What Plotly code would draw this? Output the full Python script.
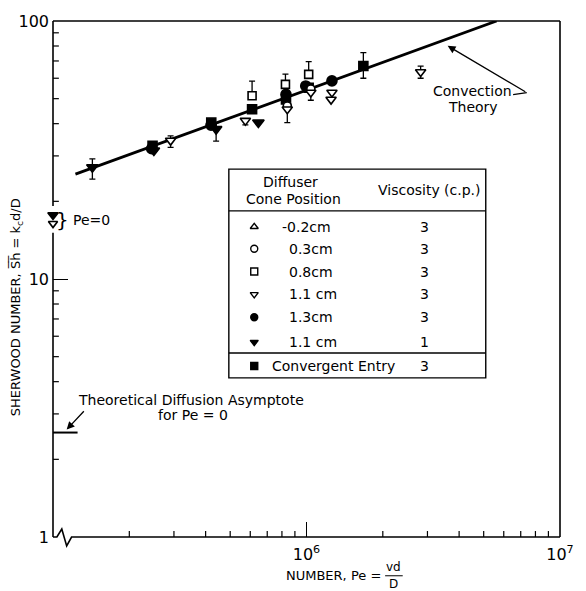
import math
import plotly.graph_objects as go

# ---------------- data ----------------
# Convection theory line (end points)
conv_pe = [1.226e5, 5.62e6]
conv_sh = [25.5, 100.0]

# Theoretical diffusion asymptote for Pe = 0
asym_pe = [1.0e5, 1.25e5]
asym_sh = [2.54, 2.54]

# Diffuser cone position 0.3 cm, 3 c.p. (open circle)
oc_pe = [8.4e5, 1.04e6]
oc_sh = [46.9, 54.5]
oc_ep = [0, 0]
oc_em = [0, 0]

# 0.8 cm, 3 c.p. (open square)
os_pe = [6.1e5, 8.26e5, 1.02e6]
os_sh = [51.3, 56.8, 62.1]
os_ep = [7.2, 5.4, 7.5]
os_em = [0, 0, 0]

# 1.1 cm, 3 c.p. (open down triangle)
ot_pe = [2.91e5, 5.74e5, 8.4e5, 1.04e6, 1.26e6, 1.25e6, 2.82e6]
ot_sh = [34.4, 41.1, 45.5, 52.8, 52.8, 49.6, 63.4]
ot_ep = [1.5, 0, 0, 0, 0, 0, 3.5]
ot_em = [2.0, 1.5, 5.1, 3.5, 0, 0, 3.4]

# 1.3 cm, 3 c.p. (filled circle)
fc_pe = [2.45e5, 4.2e5, 8.3e5, 9.93e5, 1.26e6]
fc_sh = [32.0, 39.5, 52.0, 56.0, 58.6]

# 1.1 cm, 1 c.p. (filled down triangle)
ft_pe = [1.43e5, 2.5e5, 4.4e5, 6.46e5]
ft_sh = [27.1, 31.5, 38.1, 40.4]
ft_ep = [2.1, 0, 2.3, 0]
ft_em = [2.7, 0, 3.9, 0]

# Convergent entry, 3 c.p. (filled square)
fs_pe = [2.47e5, 4.21e5, 6.1e5, 8.3e5, 1.02e6, 1.676e6]
fs_sh = [32.8, 40.4, 45.5, 49.6, 55.1, 66.9]
fs_ep = [0, 0, 0, 0, 0, 8.5]
fs_em = [0, 0, 0, 0, 0, 6.9]

# Pe = 0 points (drawn on the broken left axis)
pe0_filled_sh = [17.7]
pe0_open_sh = [16.4]

# legend table rows
leg_symbols = ["triangle-up", "circle", "square", "triangle-down",
               "circle", "triangle-down", "square"]
leg_filled = [False, False, False, False, True, True, True]
leg_labels = ["-0.2cm", "0.3cm", "0.8cm", "1.1 cm", "1.3cm", "1.1 cm",
              "Convergent Entry"]
leg_visc = ["3", "3", "3", "3", "3", "1", "3"]

x_ticks = [1e6, 1e7]
x_ticktext = ["10<sup>6</sup>", "10<sup>7</sup>"]
y_ticks = [1, 10, 100]
y_ticktext = ["1", "10", "100"]
x_minor = [m * 10 ** e for e in (5, 6) for m in range(2, 10)]
y_minor = [m * 10 ** e for e in (0, 1) for m in range(2, 10)]
X_RANGE = [5, 7]
Y_RANGE = [0, 2]

# ---------------- layout helpers (pixel -> paper) ----------------
W, H = 586, 591
L, R, T, B = 53, 572, 18, 537


def px(x):
    return (x - L) / (R - L)


def py(y):
    return (B - y) / (B - T)


FONT = "DejaVu Sans"
BLACK = "black"
FS = 14

fig = go.Figure()

# convection theory
fig.add_trace(go.Scatter(x=conv_pe, y=conv_sh, mode="lines",
                         line=dict(color=BLACK, width=2.8), showlegend=False,
                         hoverinfo="skip"))
# asymptote
fig.add_trace(go.Scatter(x=asym_pe, y=asym_sh, mode="lines",
                         line=dict(color=BLACK, width=2), showlegend=False,
                         hoverinfo="skip", cliponaxis=False))


def eb(p, m):
    return dict(type="data", array=p, arrayminus=m, symmetric=False,
                color=BLACK, thickness=1.3, width=3)


def series(xs, ys, symbol, filled, ep=None, em=None, size=9):
    mk = dict(symbol=symbol, size=size,
              color=BLACK if filled else "white",
              line=dict(color=BLACK, width=1.6))
    tr = go.Scatter(x=xs, y=ys, mode="markers", marker=mk, showlegend=False,
                    cliponaxis=False)
    if ep is not None:
        tr.error_y = eb(ep, em)
    fig.add_trace(tr)


series(fs_pe, fs_sh, "square", True, fs_ep, fs_em, 9)
series(fc_pe, fc_sh, "circle", True, size=10)
series(ft_pe, ft_sh, "triangle-down", True, ft_ep, ft_em, 10)
series(os_pe, os_sh, "square", False, os_ep, os_em, 8)
series(oc_pe, oc_sh, "circle", False, oc_ep, oc_em, 8)
series(ot_pe, ot_sh, "triangle-down", False, ot_ep, ot_em, 9)

# Pe = 0 points on the left axis
series([1e5], pe0_filled_sh, "triangle-down", True, size=9)
series([1e5], pe0_open_sh, "triangle-down", False, size=8)

# legend table symbols on an overlay (fraction) axis
row_y = [225, 247, 270, 293, 316, 341, 365]
for s, f, yy in zip(leg_symbols, leg_filled, row_y):
    fig.add_trace(go.Scatter(
        x=[px(259)], y=[py(yy)], xaxis="x2", yaxis="y2", mode="markers",
        marker=dict(symbol=s, size=7, color=BLACK if f else "white",
                    line=dict(color=BLACK, width=1.4)),
        showlegend=False, hoverinfo="skip"))

shapes = []
# plot border (with broken left axis and zigzag bottom)
line = dict(color=BLACK, width=1.6)
shapes.append(dict(type="line", xref="paper", yref="paper", x0=0, x1=1, y0=1, y1=1, line=line))
shapes.append(dict(type="line", xref="paper", yref="paper", x0=1, x1=1, y0=0, y1=1, line=line))
shapes.append(dict(type="line", xref="paper", yref="paper", x0=0, x1=0, y0=py(204), y1=1, line=line))
shapes.append(dict(type="line", xref="paper", yref="paper", x0=0, x1=0, y0=0, y1=py(231), line=line))
zig = "M {a},{b} L {c},{b} L {d},{e} L {f},{g} L {h},{b} L 1,{b}".format(
    a=px(53), b=py(537), c=px(57), d=px(62), e=py(529), f=px(67), g=py(546), h=px(72))
shapes.append(dict(type="path", xref="paper", yref="paper", path=zig, line=line))

# minor ticks (inside)
tl = dict(color=BLACK, width=1.2)
for v in x_minor:
    f = (math.log10(v) - X_RANGE[0]) / (X_RANGE[1] - X_RANGE[0])
    shapes.append(dict(type="line", xref="paper", yref="paper", x0=f, x1=f,
                       y0=0, y1=6 / (B - T), line=tl))
for v in y_minor:
    f = (math.log10(v) - Y_RANGE[0]) / (Y_RANGE[1] - Y_RANGE[0])
    shapes.append(dict(type="line", xref="paper", yref="paper", x0=0, x1=6 / (R - L),
                       y0=f, y1=f, line=tl))

# legend table box
bl = dict(color=BLACK, width=1.4)
shapes.append(dict(type="rect", xref="paper", yref="paper", x0=px(233), x1=px(496),
                   y0=py(377), y1=py(167), line=bl))
shapes.append(dict(type="line", xref="paper", yref="paper", x0=px(233), x1=px(496),
                   y0=py(209), y1=py(209), line=bl))
shapes.append(dict(type="line", xref="paper", yref="paper", x0=px(233), x1=px(496),
                   y0=py(352), y1=py(352), line=bl))
# "Convection -" short tail
shapes.append(dict(type="line", xref="paper", yref="paper", x0=px(524), x1=px(538),
                   y0=py(92), y1=py(90), line=dict(color=BLACK, width=1.3)))
# fraction bar in x title
shapes.append(dict(type="line", xref="paper", yref="paper", x0=px(393), x1=px(411),
                   y0=py(576), y1=py(576), line=dict(color=BLACK, width=1)))

ann = []


def text(x, y, s, size=FS, xanchor="center", **kw):
    ann.append(dict(x=px(x), y=py(y), xref="paper", yref="paper", text=s,
                    showarrow=False, xanchor=xanchor, yanchor="middle",
                    font=dict(family=FONT, size=size, color=BLACK), **kw))


def arrow(hx, hy, tx, ty):
    ann.append(dict(x=px(hx), y=py(hy), ax=px(tx), ay=py(ty), xref="x2", yref="y2",
                    axref="x2", ayref="y2", text="", showarrow=True, arrowhead=2,
                    arrowsize=1.2, arrowwidth=1.3, arrowcolor=BLACK))


text(482, 88, "Convection")
text(483, 105, "Theory")
arrow(457, 43, 538, 90)

text(77, 399, "Theoretical Diffusion Asymptote", 14, "left")
text(196, 414, "for Pe = 0", 14)
arrow(67, 429, 86, 409)

text(63, 218, "}", 20)
text(71, 218, "Pe=0", 14, "left")

# legend table text
text(296, 180, "Diffuser")
text(299, 197, "Cone Position")
text(438, 188, "Viscosity (c.p.)")
label_x = [285, 293, 293, 293, 293, 293, 275]
for lab, v, yy, lx in zip(leg_labels, leg_visc, row_y, label_x):
    text(lx, yy, lab, FS, "left")
    text(433, yy, v)

# axis titles
text(15, 306, "SHERWOOD NUMBER, S\u0305h\u0305 = k<sub>c</sub>d/D", 13, textangle=-90)
text(391, 576, "NUMBER, Pe =", 13, "right")
text(402, 567, "vd", 12)
text(402, 584, "D", 12)

fig.update_layout(
    width=W, height=H,
    margin=dict(l=L, r=W - R, t=T, b=H - B, pad=0),
    paper_bgcolor="white", plot_bgcolor="white",
    shapes=shapes, annotations=ann,
    font=dict(family=FONT, size=14, color=BLACK),
    xaxis=dict(type="log", range=X_RANGE, showline=False, showgrid=False, zeroline=False,
               tickvals=x_ticks, ticktext=x_ticktext, ticks="inside", ticklen=15,
               tickwidth=1.2, tickcolor=BLACK, ticklabelstandoff=6,
               tickfont=dict(family=FONT, size=16)),
    yaxis=dict(type="log", range=Y_RANGE, showline=False, showgrid=False, zeroline=False,
               tickvals=y_ticks, ticktext=y_ticktext, ticks="inside", ticklen=15,
               tickwidth=1.2, tickcolor=BLACK, ticklabelstandoff=3,
               tickfont=dict(family=FONT, size=16)),
    xaxis2=dict(overlaying="x", range=[0, 1], visible=False, fixedrange=True),
    yaxis2=dict(overlaying="y", range=[0, 1], visible=False, fixedrange=True),
)

fig.write_html("out.html")
